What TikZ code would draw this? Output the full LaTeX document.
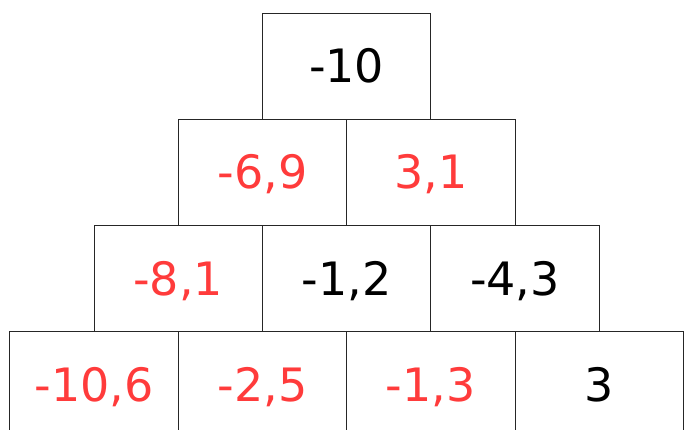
\documentclass[tikz,border=0pt]{standalone}
\usepackage{fontspec}
\setmainfont{DejaVu Sans}
\definecolor{redval}{RGB}{255,59,59}
\tikzset{cell/.style={draw=black!85, line width=0.8pt, minimum width=168.3pt,
    minimum height=106pt, inner sep=0pt, text height=33.5pt, text depth=0pt,
    font=\fontsize{46}{46}\selectfont}}

\begin{document}
\begin{tikzpicture}[x=1pt,y=-1pt]
            \useasboundingbox (0,0) rectangle (690,430);

            \foreach \c/\n/\i/\j/\t in {
            black/ra/3/0/{-10},
            redval/rba/2/1/{-6,9},
            redval/rbb/4/1/{3,1},
            redval/rca/1/2/{-8,1},
            black/rcb/3/2/{-1,2},
            black/rcc/5/2/{-4,3},
            redval/rda/0/3/{-10,6},
            redval/rdb/2/3/{-2,5},
            redval/rdc/4/3/{-1,3},
            black/rdd/6/3/{3}
            }{\node[cell, text=\c] (\n) at ({94+84.2*\i},{66.25+106*\j}) {\t};}
        \end{tikzpicture}
\end{document}
